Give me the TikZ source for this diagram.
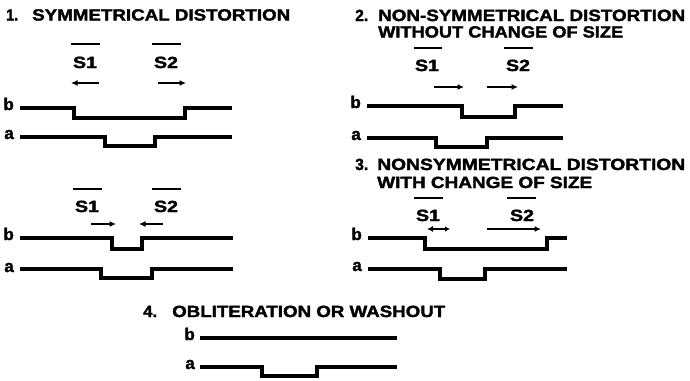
\documentclass[tikz,border=0pt]{standalone}
\usepackage{fontspec}
\setmainfont{Liberation Sans}[BoldFeatures={FakeBold=1.8}]
\usetikzlibrary{arrows.meta}
\newcommand{\ttl}[2]{\resizebox{#1}{\height}{\fontsize{16.2pt}{17pt}\selectfont\bfseries #2}}
\newcommand{\slab}[1]{\resizebox{24pt}{\height}{\fontsize{16.2pt}{17pt}\selectfont\bfseries #1}}
\begin{document}
\begin{tikzpicture}[x=1pt,y=-1pt,
  wave/.style={line width=3.2pt, line join=miter, line cap=butt},
  sarrow/.style={line width=2.5pt, -{Latex[length=6.5pt,width=6pt]}},
  dblarrow/.style={line width=2.5pt, {Latex[length=6pt,width=6pt]}-{Latex[length=5pt,width=5.5pt]}},
  sbar/.style={line width=1.5pt},
  lbl/.style={font=\fontsize{17pt}{17pt}\selectfont\bfseries, inner sep=0pt, anchor=base east},
  ttlnode/.style={inner sep=0pt, anchor=base west},
  snode/.style={inner sep=0pt, anchor=base}]
\useasboundingbox (0,0) rectangle (690,380);

% ---------- titles ----------
\node[ttlnode] (t1n) at (6,20.5) {\ttl{12pt}{1.}};
\node[ttlnode] (t1)  at (32,20.5) {\ttl{258pt}{SYMMETRICAL DISTORTION}};
\node[ttlnode] (t2n) at (355,21) {\ttl{13pt}{2.}};
\node[ttlnode] (t2a) at (378,21) {\ttl{307pt}{NON-SYMMETRICAL DISTORTION}};
\node[ttlnode] (t2b) at (378,37.5) {\ttl{245pt}{WITHOUT CHANGE OF SIZE}};
\node[ttlnode] (t3n) at (355,170) {\ttl{13pt}{3.}};
\node[ttlnode] (t3a) at (377,170) {\ttl{308pt}{NONSYMMETRICAL DISTORTION}};
\node[ttlnode] (t3b) at (377,188) {\ttl{215pt}{WITH CHANGE OF SIZE}};
\node[ttlnode] (t4n) at (143,317) {\ttl{14pt}{4.}};
\node[ttlnode] (t4)  at (172,317) {\ttl{273pt}{OBLITERATION OR WASHOUT}};

% ---------- panel 1 (top) ----------
\node[snode] (p1s1) at (85,68) {\slab{S1}};
\node[snode] (p1s2) at (166,68) {\slab{S2}};
\draw[sbar] (71,44) -- (100,44);
\draw[sbar] (152,44) -- (181,44);
\draw[sarrow] (99,83) -- (71,83);
\draw[sarrow] (158,83) -- (186,83);
\node[lbl] (p1b) at (14,110) {b};
\node[lbl] (p1a) at (14,139) {a};
\draw[wave] (20,108) -- (74,108) -- (74,118) -- (185,118) -- (185,108) -- (232,108);
\draw[wave] (20,137) -- (105,137) -- (105,146) -- (155,146) -- (155,137) -- (232,137);

% ---------- panel 1 (bottom) ----------
\node[snode] (q1s1) at (87,212) {\slab{S1}};
\node[snode] (q1s2) at (166,212) {\slab{S2}};
\draw[sbar] (73,189) -- (102,189);
\draw[sbar] (152,189) -- (181,189);
\draw[sarrow] (91,224) -- (116,224);
\draw[sarrow] (163,224) -- (139,224);
\node[lbl] (q1b) at (14,240) {b};
\node[lbl] (q1a) at (14,272) {a};
\draw[wave] (20,238) -- (112,238) -- (112,249) -- (142,249) -- (142,238) -- (233,238);
\draw[wave] (20,269) -- (101,269) -- (101,278) -- (152,278) -- (152,269) -- (233,269);

% ---------- panel 2 ----------
\node[snode] (p2s1) at (427,71) {\slab{S1}};
\node[snode] (p2s2) at (518,71) {\slab{S2}};
\draw[sbar] (414,48) -- (442,48);
\draw[sbar] (504,48) -- (533,48);
\draw[sarrow] (434,87) -- (464,87);
\draw[sarrow] (487,87) -- (518,87);
\node[lbl] (p2b) at (361,108) {b};
\node[lbl] (p2a) at (361,140) {a};
\draw[wave] (367,106) -- (462,106) -- (462,117) -- (515,117) -- (515,106) -- (563,106);
\draw[wave] (367,138) -- (436,138) -- (436,147) -- (487,147) -- (487,138) -- (563,138);

% ---------- panel 3 ----------
\node[snode] (p3s1) at (428,221) {\slab{S1}};
\node[snode] (p3s2) at (522,221) {\slab{S2}};
\draw[sbar] (414,198) -- (443,198);
\draw[sbar] (507,198) -- (536,198);
\draw[dblarrow] (427,229) -- (450,229);
\draw[sarrow] (487,229) -- (541,229);
\node[lbl] (p3b) at (362,240) {b};
\node[lbl] (p3a) at (362,271) {a};
\draw[wave] (368,238) -- (425,238) -- (425,249) -- (547,249) -- (547,238) -- (567,238);
\draw[wave] (368,269) -- (440,269) -- (440,279) -- (485,279) -- (485,269) -- (567,269);

% ---------- panel 4 ----------
\node[lbl] (p4b) at (195,340) {b};
\node[lbl] (p4a) at (195,369) {a};
\draw[wave] (200,338) -- (397,338);
\draw[wave] (200,367) -- (262,367) -- (262,376) -- (317,376) -- (317,367) -- (397,367);
\end{tikzpicture}
\end{document}
